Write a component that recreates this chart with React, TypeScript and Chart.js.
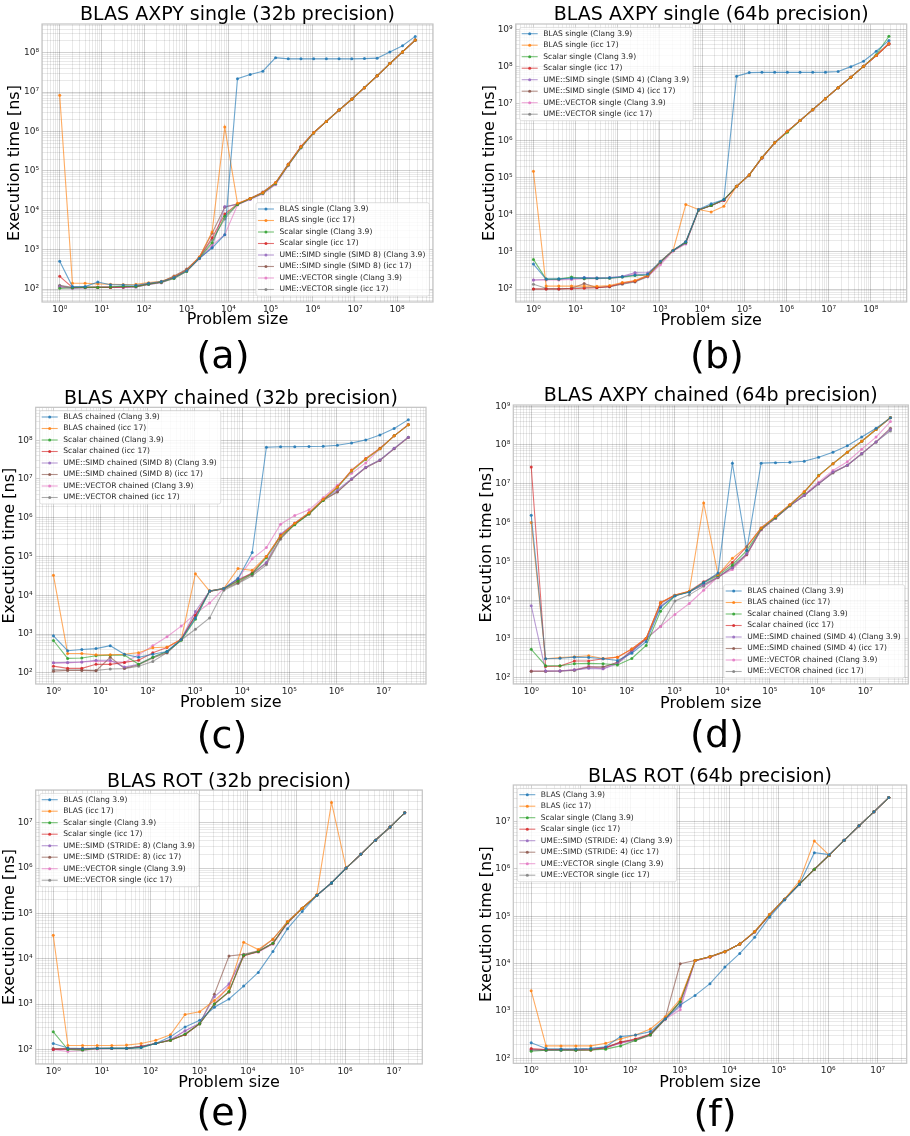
import React, { useEffect, useRef } from 'react';
import { Chart, registerables } from 'chart.js';

Chart.register(...registerables);

const FONT = "'DejaVu Sans', sans-serif";

// ---------------- Data ----------------
const SIZES_A = [1, 2, 4, 8, 16, 32, 64, 128, 256, 512, 1024, 2048, 4096, 8192, 16384, 32768, 65536, 131072, 262144, 524288, 1048576, 2097152, 4194304, 8388608, 16777216, 33554432, 67108864, 134217728, 268435456];
const SIZES_C = [1, 2, 4, 8, 16, 32, 64, 128, 256, 512, 1024, 2048, 4096, 8192, 16384, 32768, 65536, 131072, 262144, 524288, 1048576, 2097152, 4194304, 8388608, 16777216, 33554432];
const SIZES_E = [1, 2, 4, 8, 16, 32, 64, 128, 256, 512, 1024, 2048, 4096, 8192, 16384, 32768, 65536, 131072, 262144, 524288, 1048576, 2097152, 4194304, 8388608, 16777216];

const LABELS_A = ['BLAS single (Clang 3.9)', 'BLAS single (icc 17)', 'Scalar single (Clang 3.9)', 'Scalar single (icc 17)', 'UME::SIMD single (SIMD 8) (Clang 3.9)', 'UME::SIMD single (SIMD 8) (icc 17)', 'UME::VECTOR single (Clang 3.9)', 'UME::VECTOR single (icc 17)'];
const LABELS_B = ['BLAS single (Clang 3.9)', 'BLAS single (icc 17)', 'Scalar single (Clang 3.9)', 'Scalar single (icc 17)', 'UME::SIMD single (SIMD 4) (Clang 3.9)', 'UME::SIMD single (SIMD 4) (icc 17)', 'UME::VECTOR single (Clang 3.9)', 'UME::VECTOR single (icc 17)'];
const LABELS_C = ['BLAS chained (Clang 3.9)', 'BLAS chained (icc 17)', 'Scalar chained (Clang 3.9)', 'Scalar chained (icc 17)', 'UME::SIMD chained (SIMD 8) (Clang 3.9)', 'UME::SIMD chained (SIMD 8) (icc 17)', 'UME::VECTOR chained (Clang 3.9)', 'UME::VECTOR chained (icc 17)'];
const LABELS_D = ['BLAS chained (Clang 3.9)', 'BLAS chained (icc 17)', 'Scalar chained (Clang 3.9)', 'Scalar chained (icc 17)', 'UME::SIMD chained (SIMD 4) (Clang 3.9)', 'UME::SIMD chained (SIMD 4) (icc 17)', 'UME::VECTOR chained (Clang 3.9)', 'UME::VECTOR chained (icc 17)'];
const LABELS_E = ['BLAS (Clang 3.9)', 'BLAS (icc 17)', 'Scalar single (Clang 3.9)', 'Scalar single (icc 17)', 'UME::SIMD (STRIDE: 8) (Clang 3.9)', 'UME::SIMD (STRIDE: 8) (icc 17)', 'UME::VECTOR single (Clang 3.9)', 'UME::VECTOR single (icc 17)'];
const LABELS_F = ['BLAS (Clang 3.9)', 'BLAS (icc 17)', 'Scalar single (Clang 3.9)', 'Scalar single (icc 17)', 'UME::SIMD (STRIDE: 4) (Clang 3.9)', 'UME::SIMD (STRIDE: 4) (icc 17)', 'UME::VECTOR single (Clang 3.9)', 'UME::VECTOR single (icc 17)'];

// (a) BLAS AXPY single, 32b
const A_BLAS_CLANG = [510, 115, 115, 150, 128, 127, 125, 140, 155, 195, 290, 600, 1100, 2400, 2.2e7, 2.8e7, 3.4e7, 7.5e7, 7.0e7, 7.0e7, 7.0e7, 7.0e7, 7.0e7, 7.0e7, 7.1e7, 7.3e7, 1.05e8, 1.5e8, 2.6e8];
const A_BLAS_ICC = [8.3e6, 140, 140, 135, 132, 130, 132, 145, 158, 205, 300, 650, 2800, 1.3e6, 1.5e4, 2.0e4, 2.8e4, 5.0e4, 1.45e5, 4.1e5, 9.3e5, 1.8e6, 3.5e6, 6.6e6, 1.3e7, 2.6e7, 5.3e7, 1.05e8, 2.1e8];
const A_SCALAR_CLANG = [104, 108, 110, 110, 112, 118, 115, 132, 148, 185, 280, 610, 1500, 7000, 1.4e4, 1.95e4, 2.7e4, 4.8e4, 1.4e5, 3.9e5, 9.2e5, 1.8e6, 3.5e6, 6.6e6, 1.3e7, 2.6e7, 5.3e7, 1.05e8, 2.1e8];
const A_SCALAR_ICC = [210, 110, 110, 110, 110, 112, 118, 135, 150, 195, 300, 640, 2000, 8000, 1.45e4, 2.0e4, 2.8e4, 5.0e4, 1.45e5, 4.2e5, 9.3e5, 1.8e6, 3.5e6, 6.6e6, 1.3e7, 2.6e7, 5.3e7, 1.05e8, 2.1e8];
const A_SIMD_CLANG = [115, 105, 108, 110, 110, 110, 112, 130, 145, 200, 290, 600, 1150, 1.25e4, 1.4e4, 1.9e4, 2.7e4, 4.6e4, 1.4e5, 3.8e5, 9.2e5, 1.8e6, 3.5e6, 6.6e6, 1.3e7, 2.6e7, 5.3e7, 1.05e8, 2.1e8];
const A_SIMD_ICC = [120, 108, 110, 110, 110, 112, 115, 135, 150, 215, 320, 640, 2600, 1.2e4, 1.45e4, 2.0e4, 2.9e4, 5.0e4, 1.5e5, 4.1e5, 9.4e5, 1.8e6, 3.5e6, 6.7e6, 1.3e7, 2.6e7, 5.3e7, 1.05e8, 2.1e8];
const A_VEC_CLANG = [110, 105, 108, 110, 110, 110, 112, 130, 145, 185, 280, 590, 1300, 2400, 1.35e4, 1.9e4, 2.6e4, 4.5e4, 1.35e5, 3.9e5, 9.2e5, 1.8e6, 3.5e6, 6.6e6, 1.3e7, 2.6e7, 5.3e7, 1.05e8, 2.1e8];
const A_VEC_ICC = [125, 110, 112, 112, 112, 115, 118, 135, 150, 205, 310, 620, 1800, 6000, 1.4e4, 2.0e4, 2.8e4, 4.9e4, 1.45e5, 4.0e5, 9.3e5, 1.8e6, 3.5e6, 6.6e6, 1.3e7, 2.6e7, 5.3e7, 1.05e8, 2.1e8];

// (b) BLAS AXPY single, 64b
const B_BLAS_CLANG = [470, 185, 190, 195, 200, 195, 200, 215, 240, 250, 560, 1100, 1900, 1.4e4, 2.0e4, 2.6e4, 5.5e7, 6.9e7, 7.0e7, 7.0e7, 7.0e7, 7.0e7, 7.0e7, 7.1e7, 7.4e7, 1.0e8, 1.4e8, 2.6e8, 5.1e8];
const B_BLAS_ICC = [1.5e5, 120, 120, 120, 120, 118, 125, 150, 170, 230, 560, 1100, 1.9e4, 1.4e4, 1.2e4, 1.7e4, 5.9e4, 1.2e5, 3.5e5, 8.8e5, 1.8e6, 3.5e6, 6.9e6, 1.37e7, 2.7e7, 5.2e7, 1.02e8, 2.0e8, 4.2e8];
const B_SCALAR_CLANG = [630, 185, 185, 210, 190, 195, 195, 210, 230, 240, 540, 1100, 1800, 1.35e4, 1.8e4, 2.6e4, 5.9e4, 1.2e5, 3.5e5, 8.8e5, 1.7e6, 3.5e6, 6.9e6, 1.37e7, 2.7e7, 5.2e7, 1.02e8, 2.1e8, 6.6e8];
const B_SCALAR_ICC = [100, 100, 100, 102, 105, 108, 118, 145, 165, 230, 540, 1100, 1800, 1.35e4, 1.8e4, 2.5e4, 5.9e4, 1.2e5, 3.5e5, 8.8e5, 1.8e6, 3.5e6, 6.9e6, 1.37e7, 2.7e7, 5.2e7, 1.02e8, 2.0e8, 4.1e8];
const B_SIMD_CLANG = [175, 180, 180, 190, 205, 200, 205, 220, 280, 270, 520, 1100, 1700, 1.35e4, 1.8e4, 2.5e4, 5.8e4, 1.2e5, 3.4e5, 8.8e5, 1.8e6, 3.5e6, 6.9e6, 1.37e7, 2.7e7, 5.2e7, 1.02e8, 2.0e8, 4.3e8];
const B_SIMD_ICC = [100, 100, 100, 105, 140, 110, 115, 140, 160, 220, 540, 1100, 1900, 1.35e4, 1.8e4, 2.5e4, 5.9e4, 1.2e5, 3.5e5, 8.8e5, 1.8e6, 3.5e6, 6.9e6, 1.37e7, 2.7e7, 5.2e7, 1.02e8, 2.0e8, 4.1e8];
const B_VEC_CLANG = [175, 175, 175, 180, 190, 190, 195, 210, 260, 215, 450, 1050, 1650, 1.35e4, 1.8e4, 2.5e4, 5.8e4, 1.2e5, 3.4e5, 8.8e5, 1.8e6, 3.5e6, 6.9e6, 1.37e7, 2.7e7, 5.2e7, 1.02e8, 2.0e8, 4.2e8];
const B_VEC_ICC = [135, 105, 102, 105, 110, 110, 115, 135, 155, 215, 500, 1100, 1800, 1.35e4, 1.8e4, 2.5e4, 5.9e4, 1.2e5, 3.5e5, 8.8e5, 1.8e6, 3.5e6, 6.9e6, 1.37e7, 2.7e7, 5.2e7, 1.02e8, 2.0e8, 4.1e8];

// (c) BLAS AXPY chained, 32b
const C_BLAS_CLANG = [900, 370, 400, 420, 500, 300, 250, 300, 355, 720, 2600, 1.28e4, 1.5e4, 2.7e4, 1.26e5, 6.6e7, 6.8e7, 6.8e7, 6.9e7, 7.0e7, 7.4e7, 8.5e7, 1.02e8, 1.37e8, 2.0e8, 3.4e8];
const C_BLAS_ICC = [3.3e4, 315, 315, 290, 290, 300, 330, 440, 460, 720, 3.6e4, 1.28e4, 1.5e4, 4.9e4, 4.4e4, 1.0e5, 3.4e5, 7.2e5, 1.35e6, 3.0e6, 6.2e6, 1.65e7, 3.3e7, 6.0e7, 1.3e8, 2.5e8];
const C_SCALAR_CLANG = [680, 235, 240, 275, 285, 285, 165, 250, 355, 690, 2400, 1.28e4, 1.5e4, 2.3e4, 3.6e4, 9.3e4, 3.3e5, 6.6e5, 1.25e6, 2.8e6, 6.0e6, 1.6e7, 3.2e7, 6.0e7, 1.3e8, 2.5e8];
const C_SCALAR_ICC = [148, 130, 130, 165, 165, 185, 210, 330, 450, 730, 3000, 1.28e4, 1.5e4, 2.4e4, 3.8e4, 1.0e5, 3.5e5, 7.1e5, 1.3e6, 2.9e6, 6.2e6, 1.7e7, 3.4e7, 6.2e7, 1.3e8, 2.5e8];
const C_SIMD_CLANG = [180, 185, 190, 210, 210, 140, 165, 250, 355, 740, 3800, 1.28e4, 1.5e4, 2.6e4, 3.6e4, 7.0e4, 3.8e5, 7.3e5, 1.35e6, 3.0e6, 5.2e6, 1.0e7, 2.0e7, 3.1e7, 6.2e7, 1.2e8];
const C_SIMD_ICC = [110, 115, 115, 112, 250, 130, 160, 240, 330, 720, 3000, 1.25e4, 1.45e4, 2.1e4, 3.5e4, 6.8e4, 3.0e5, 6.9e5, 1.25e6, 2.8e6, 4.6e6, 9.8e6, 1.95e7, 3.0e7, 6.0e7, 1.18e8];
const C_VEC_CLANG = [180, 180, 190, 200, 195, 185, 290, 500, 850, 1600, 3300, 6300, 1.5e4, 2.7e4, 8.7e4, 1.7e5, 6.8e5, 1.15e6, 1.6e6, 3.3e6, 6.9e6, 1.4e7, 2.6e7, 6.0e7, 1.3e8, 2.6e8];
const C_VEC_ICC = [121, 118, 118, 115, 125, 128, 148, 195, 330, 700, 1330, 2600, 1.35e4, 2.0e4, 3.2e4, 6.1e4, 2.8e5, 6.8e5, 1.3e6, 2.9e6, 4.7e6, 1.0e7, 2.0e7, 3.1e7, 6.1e7, 1.2e8];

// (d) BLAS AXPY chained, 64b
const D_BLAS_CLANG = [1.55e6, 310, 320, 340, 335, 310, 280, 430, 850, 6500, 1.3e4, 1.6e4, 2.8e4, 5.0e4, 3.4e7, 1.95e5, 3.4e7, 3.5e7, 3.6e7, 3.8e7, 4.8e7, 6.5e7, 9.6e7, 1.6e8, 2.7e8, 5.0e8];
const D_BLAS_ICC = [1.0e6, 310, 330, 350, 370, 315, 340, 550, 1050, 8700, 1.35e4, 1.7e4, 3.2e6, 4.5e4, 1.2e5, 2.4e5, 7.2e5, 1.45e6, 2.9e6, 6.2e6, 1.6e7, 3.3e7, 6.5e7, 1.25e8, 2.5e8, 5.1e8];
const D_SCALAR_CLANG = [540, 205, 205, 230, 235, 230, 215, 315, 680, 5200, 1.3e4, 1.65e4, 2.8e4, 4.3e4, 8.1e4, 1.9e5, 7.0e5, 1.35e6, 2.8e6, 6.0e6, 1.65e7, 3.3e7, 6.5e7, 1.25e8, 2.5e8, 5.1e8];
const D_SCALAR_ICC = [2.7e7, 195, 200, 270, 270, 310, 340, 550, 1050, 8700, 1.35e4, 1.7e4, 3.0e4, 4.6e4, 9.4e4, 2.4e5, 7.3e5, 1.45e6, 2.9e6, 6.2e6, 1.6e7, 3.3e7, 6.5e7, 1.25e8, 2.5e8, 5.0e8];
const D_SIMD_CLANG = [7200, 150, 150, 160, 175, 170, 230, 470, 1000, 7000, 1.3e4, 1.65e4, 2.5e4, 4.0e4, 6.9e4, 1.6e5, 6.8e5, 1.3e6, 2.7e6, 5.0e6, 1.0e7, 2.0e7, 3.0e7, 6.0e7, 1.2e8, 2.5e8];
const D_SIMD_ICC = [148, 148, 150, 158, 190, 190, 250, 500, 1000, 8300, 1.33e4, 1.65e4, 2.5e4, 3.9e4, 6.9e4, 1.5e5, 6.6e5, 1.3e6, 2.7e6, 5.0e6, 1.0e7, 1.95e7, 3.0e7, 6.0e7, 1.2e8, 2.7e8];
const D_VEC_CLANG = [150, 150, 152, 160, 200, 170, 250, 520, 1050, 2100, 4300, 8200, 1.8e4, 4.0e4, 6.2e4, 1.45e5, 6.5e5, 1.3e6, 2.7e6, 5.2e6, 1.1e7, 2.2e7, 3.7e7, 7.8e7, 1.6e8, 4.0e8];
const D_VEC_ICC = [148, 148, 150, 155, 190, 190, 240, 480, 1000, 2100, 9500, 1.37e4, 2.3e4, 3.8e4, 7.5e4, 1.55e5, 6.5e5, 1.3e6, 2.7e6, 5.0e6, 1.0e7, 1.9e7, 3.0e7, 5.8e7, 1.2e8, 2.3e8];

// (e) BLAS ROT, 32b
const E_BLAS_CLANG = [135, 108, 105, 106, 106, 106, 110, 135, 190, 315, 440, 850, 1300, 2500, 5000, 1.45e4, 4.6e4, 1.1e5, 2.5e5, 4.7e5, 1.0e6, 2.0e6, 4.1e6, 8.0e6, 1.65e7];
const E_BLAS_ICC = [3.3e4, 122, 122, 122, 122, 125, 135, 160, 210, 590, 680, 1200, 2300, 2.3e4, 1.6e4, 2.7e4, 6.6e4, 1.3e5, 2.6e5, 2.8e7, 1.0e6, 2.0e6, 4.1e6, 8.0e6, 1.65e7];
const E_SCALAR_CLANG = [245, 100, 97, 105, 106, 106, 110, 135, 160, 220, 370, 1000, 1900, 1.2e4, 1.45e4, 2.2e4, 6.3e4, 1.3e5, 2.5e5, 4.7e5, 1.0e6, 2.0e6, 4.1e6, 8.0e6, 1.65e7];
const E_SCALAR_ICC = [100, 102, 102, 105, 105, 106, 115, 135, 160, 215, 370, 1000, 1850, 1.15e4, 1.45e4, 2.2e4, 6.3e4, 1.3e5, 2.5e5, 4.7e5, 1.0e6, 2.0e6, 4.1e6, 8.0e6, 1.65e7];
const E_SIMD_CLANG = [100, 100, 100, 105, 106, 106, 115, 135, 165, 260, 380, 1450, 2800, 1.2e4, 1.45e4, 2.2e4, 6.3e4, 1.3e5, 2.5e5, 4.7e5, 1.0e6, 2.0e6, 4.1e6, 8.0e6, 1.65e7];
const E_SIMD_ICC = [105, 105, 105, 106, 106, 106, 117, 135, 160, 215, 370, 1650, 1.15e4, 1.25e4, 1.5e4, 2.7e4, 6.6e4, 1.3e5, 2.5e5, 4.7e5, 1.0e6, 2.0e6, 4.1e6, 8.0e6, 1.65e7];
const E_VEC_CLANG = [100, 90, 95, 103, 105, 106, 115, 135, 165, 255, 375, 1000, 2600, 1.2e4, 1.4e4, 2.1e4, 6.0e4, 1.3e5, 2.5e5, 4.7e5, 1.0e6, 2.0e6, 4.1e6, 8.0e6, 1.65e7];
const E_VEC_ICC = [102, 104, 104, 106, 106, 106, 117, 135, 160, 210, 365, 1000, 1850, 1.2e4, 1.45e4, 2.2e4, 6.3e4, 1.3e5, 2.5e5, 4.7e5, 1.0e6, 2.0e6, 4.1e6, 8.0e6, 1.65e7];

// (f) BLAS ROT, 64b
const F_BLAS_CLANG = [215, 163, 160, 160, 165, 178, 290, 315, 370, 690, 1350, 2150, 3800, 8500, 1.65e4, 3.6e4, 9.6e4, 2.2e5, 4.7e5, 2.2e6, 2.0e6, 4.0e6, 8.1e6, 1.6e7, 3.2e7];
const F_BLAS_ICC = [2700, 185, 185, 185, 185, 210, 260, 315, 420, 760, 1800, 1.17e4, 1.4e4, 1.8e4, 2.6e4, 4.8e4, 1.1e5, 2.3e5, 5.5e5, 3.9e6, 1.95e6, 4.0e6, 8.1e6, 1.6e7, 3.2e7];
const F_SCALAR_CLANG = [143, 150, 150, 150, 152, 158, 185, 240, 315, 690, 1600, 1.17e4, 1.4e4, 1.8e4, 2.6e4, 4.7e4, 1.08e5, 2.3e5, 4.8e5, 9.8e5, 1.95e6, 4.0e6, 8.1e6, 1.6e7, 3.2e7];
const F_SCALAR_ICC = [163, 155, 155, 152, 150, 170, 220, 260, 330, 690, 1600, 1.17e4, 1.4e4, 1.8e4, 2.6e4, 4.7e4, 1.08e5, 2.3e5, 4.8e5, 9.8e5, 1.95e6, 4.0e6, 8.1e6, 1.6e7, 3.2e7];
const F_SIMD_CLANG = [152, 150, 152, 152, 155, 170, 215, 250, 320, 680, 1250, 1.15e4, 1.4e4, 1.8e4, 2.6e4, 4.7e4, 1.08e5, 2.3e5, 4.8e5, 9.8e5, 1.95e6, 4.0e6, 8.1e6, 1.6e7, 3.2e7];
const F_SIMD_ICC = [155, 155, 155, 155, 158, 172, 225, 250, 320, 720, 1.0e4, 1.17e4, 1.4e4, 1.8e4, 2.6e4, 4.7e4, 1.08e5, 2.3e5, 4.8e5, 9.8e5, 1.95e6, 4.0e6, 8.1e6, 1.6e7, 3.2e7];
const F_VEC_CLANG = [152, 148, 150, 152, 155, 168, 210, 240, 305, 670, 1070, 1.15e4, 1.35e4, 1.8e4, 2.6e4, 4.6e4, 1.05e5, 2.3e5, 4.8e5, 9.8e5, 1.95e6, 4.0e6, 8.1e6, 1.6e7, 3.2e7];
const F_VEC_ICC = [152, 150, 150, 152, 155, 170, 215, 250, 320, 690, 1500, 1.17e4, 1.4e4, 1.8e4, 2.6e4, 4.7e4, 1.08e5, 2.3e5, 4.8e5, 9.8e5, 1.95e6, 4.0e6, 8.1e6, 1.6e7, 3.2e7];

// ---------------- Styles & layout ----------------
const SERIES_RGB = ['31,119,180', '255,127,14', '44,160,44', '214,39,40', '148,103,189', '140,86,75', '227,119,194', '127,127,127'];

const PANELS = [
  {
    title: 'BLAS AXPY single (32b precision)', letter: '(a)', sizes: SIZES_A, labels: LABELS_A,
    series: [A_BLAS_CLANG, A_BLAS_ICC, A_SCALAR_CLANG, A_SCALAR_ICC, A_SIMD_CLANG, A_SIMD_ICC, A_VEC_CLANG, A_VEC_ICC],
    xRange: [-0.42, 8.85], yRange: [1.67, 8.73],
    box: { x: 0, y: 0, w: 455, h: 335 }, plot: { l: 42, t: 24, r: 433, b: 302 },
    titleY: 15, yTitleX: 15, xTitleY: 320, legend: 'lr', letterPos: [223, 356],
  },
  {
    title: 'BLAS AXPY single (64b precision)', letter: '(b)', sizes: SIZES_A, labels: LABELS_B,
    series: [B_BLAS_CLANG, B_BLAS_ICC, B_SCALAR_CLANG, B_SCALAR_ICC, B_SIMD_CLANG, B_SIMD_ICC, B_VEC_CLANG, B_VEC_ICC],
    xRange: [-0.42, 8.85], yRange: [1.65, 9.15],
    box: { x: 455, y: 0, w: 455, h: 335 }, plot: { l: 515.7, t: 24, r: 906.7, b: 302 },
    titleY: 15, yTitleX: 490, xTitleY: 321, legend: 'ul', letterPos: [717, 356],
  },
  {
    title: 'BLAS AXPY chained (32b precision)', letter: '(c)', sizes: SIZES_C, labels: LABELS_C,
    series: [C_BLAS_CLANG, C_BLAS_ICC, C_SCALAR_CLANG, C_SCALAR_ICC, C_SIMD_CLANG, C_SIMD_ICC, C_VEC_CLANG, C_VEC_ICC],
    xRange: [-0.376, 7.9], yRange: [1.71, 8.85],
    box: { x: 0, y: 380, w: 455, h: 337 }, plot: { l: 35.7, t: 407.3, r: 426, b: 684 },
    titleY: 399, yTitleX: 10, xTitleY: 702.5, legend: 'ul', letterPos: [222, 736],
  },
  {
    title: 'BLAS AXPY chained (64b precision)', letter: '(d)', sizes: SIZES_C, labels: LABELS_D,
    series: [D_BLAS_CLANG, D_BLAS_ICC, D_SCALAR_CLANG, D_SCALAR_ICC, D_SIMD_CLANG, D_SIMD_ICC, D_VEC_CLANG, D_VEC_ICC],
    xRange: [-0.376, 7.9], yRange: [1.84, 9.03],
    box: { x: 455, y: 380, w: 455, h: 338 }, plot: { l: 513.3, t: 405, r: 908.3, b: 684 },
    titleY: 396, yTitleX: 487, xTitleY: 704, legend: 'lr', letterPos: [717, 735],
  },
  {
    title: 'BLAS ROT (32b precision)', letter: '(e)', sizes: SIZES_E, labels: LABELS_E,
    series: [E_BLAS_CLANG, E_BLAS_ICC, E_SCALAR_CLANG, E_SCALAR_ICC, E_SIMD_CLANG, E_SIMD_ICC, E_VEC_CLANG, E_VEC_ICC],
    xRange: [-0.361, 7.586], yRange: [1.68, 7.72],
    box: { x: 0, y: 760, w: 455, h: 337 }, plot: { l: 35.7, t: 790, r: 422.3, b: 1064 },
    titleY: 782, yTitleX: 10, xTitleY: 1082.5, legend: 'ul', letterPos: [223, 1113],
  },
  {
    title: 'BLAS ROT (64b precision)', letter: '(f)', sizes: SIZES_E, labels: LABELS_F,
    series: [F_BLAS_CLANG, F_BLAS_ICC, F_SCALAR_CLANG, F_SCALAR_ICC, F_SIMD_CLANG, F_SIMD_ICC, F_VEC_CLANG, F_VEC_ICC],
    xRange: [-0.361, 7.586], yRange: [1.9, 7.77],
    box: { x: 455, y: 760, w: 455, h: 338 }, plot: { l: 513.3, t: 785, r: 906.7, b: 1063.3 },
    titleY: 777, yTitleX: 487, xTitleY: 1083, legend: 'ul', letterPos: [715, 1114],
  },
];

const SUP: Record<string, string> = { '0': '⁰', '1': '¹', '2': '²', '3': '³', '4': '⁴', '5': '⁵', '6': '⁶', '7': '⁷', '8': '⁸', '9': '⁹', '-': '⁻' };

function isPow10(v: number) {
  if (!(v > 0)) return false;
  const l = Math.log10(v);
  return Math.abs(l - Math.round(l)) < 1e-6;
}

function pow10Label(v: number) {
  const e = Math.round(Math.log10(v));
  return '10' + String(e).split('').map((c) => SUP[c]).join('');
}

function logTicks(minV: number, maxV: number) {
  const out: any[] = [];
  const e0 = Math.floor(Math.log10(minV));
  const e1 = Math.floor(Math.log10(maxV));
  for (let e = e0; e <= e1; e++) {
    for (let m = 1; m <= 9; m++) {
      const v = m * Math.pow(10, e);
      if (v >= minV && v <= maxV) out.push({ value: v, major: m === 1 });
    }
  }
  return out;
}

const decorPlugin = {
  id: 'panelDecor',
  beforeDatasetsDraw(chart: any) {
    const { ctx, chartArea: a } = chart;
    ctx.save();
    ctx.strokeStyle = '#c4c4c4';
    ctx.lineWidth = 1.2;
    ctx.strokeRect(a.left, a.top, a.right - a.left, a.bottom - a.top);
    ctx.restore();
  },
  afterDatasetsDraw(chart: any, _args: any, opts: any) {
    const { ctx, chartArea: a } = chart;
    const fs = 7.6;
    const rowH = 11.5;
    ctx.save();
    ctx.font = `${fs}px ${FONT}`;
    const labels = chart.data.datasets.map((d: any) => d.label);
    const maxW = Math.max(...labels.map((l: string) => ctx.measureText(l).width));
    const boxW = 23.5 + maxW + 4;
    const boxH = 6.3 + (labels.length - 1) * rowH + 6.5;
    let bx: number, by: number;
    if (opts.corner === 'lr') {
      bx = a.right - 3.6 - boxW;
      by = a.bottom - 6 - boxH;
    } else {
      bx = a.left + 4;
      by = a.top + 3.4;
    }
    ctx.beginPath();
    if (ctx.roundRect) ctx.roundRect(bx, by, boxW, boxH, 2);
    else ctx.rect(bx, by, boxW, boxH);
    ctx.fillStyle = 'rgba(255,255,255,0.8)';
    ctx.fill();
    ctx.strokeStyle = 'rgba(204,204,204,0.8)';
    ctx.lineWidth = 0.8;
    ctx.stroke();
    chart.data.datasets.forEach((d: any, i: number) => {
      const cy = by + 6.3 + i * rowH;
      ctx.strokeStyle = d.borderColor;
      ctx.lineWidth = 1.1;
      ctx.beginPath();
      ctx.moveTo(bx + 2, cy);
      ctx.lineTo(bx + 18, cy);
      ctx.stroke();
      ctx.fillStyle = d.pointBackgroundColor;
      ctx.beginPath();
      ctx.arc(bx + 10, cy, 1.5, 0, Math.PI * 2);
      ctx.fill();
      ctx.fillStyle = '#262626';
      ctx.textAlign = 'left';
      ctx.textBaseline = 'middle';
      ctx.fillText(d.label, bx + 23.5, cy);
    });
    ctx.restore();
  },
  afterDraw(chart: any, _args: any, opts: any) {
    const { ctx, chartArea: a } = chart;
    ctx.save();
    ctx.font = `19px ${FONT}`;
    ctx.fillStyle = '#000';
    ctx.textAlign = 'center';
    ctx.textBaseline = 'middle';
    ctx.fillText(opts.title, (a.left + a.right) / 2, opts.titleY);
    ctx.restore();
  },
};

function Panel({ spec }: { spec: any }) {
  const ref = useRef<HTMLCanvasElement | null>(null);
  useEffect(() => {
    const canvas = ref.current;
    if (!canvas) return;
    const { box, plot } = spec;
    const lh = 16 * 1.2;
    const xMin = Math.pow(10, spec.xRange[0]);
    const xMax = Math.pow(10, spec.xRange[1]);
    const yMin = Math.pow(10, spec.yRange[0]);
    const yMax = Math.pow(10, spec.yRange[1]);
    const gridColor = (ctx: any) =>
      ctx.tick && isPow10(ctx.tick.value) ? 'rgba(0,0,0,0.18)' : 'rgba(0,0,0,0.085)';
    const tickCb = (value: any) => (isPow10(Number(value)) ? pow10Label(Number(value)) : '');
    const datasets = spec.series.map((vals: number[], i: number) => ({
      label: spec.labels[i],
      data: vals.map((v, j) => ({ x: spec.sizes[j], y: v })),
      borderColor: `rgba(${SERIES_RGB[i]},0.65)`,
      pointBackgroundColor: `rgba(${SERIES_RGB[i]},0.85)`,
      backgroundColor: `rgba(${SERIES_RGB[i]},0.85)`,
      borderWidth: 1.1,
      pointRadius: 1.5,
      pointBorderWidth: 0,
      pointHoverRadius: 0,
      tension: 0,
      fill: false,
    }));
    const chart = new Chart(canvas, {
      type: 'line',
      data: { datasets },
      options: {
        responsive: false,
        maintainAspectRatio: false,
        animation: false,
        events: [],
        layout: { padding: { left: 0, top: plot.t - box.y, right: box.x + box.w - plot.r, bottom: 0 } },
        plugins: {
          legend: { display: false },
          tooltip: { enabled: false },
          panelDecor: { corner: spec.legend, title: spec.title, titleY: spec.titleY - box.y },
        } as any,
        scales: {
          x: {
            type: 'logarithmic',
            position: 'bottom',
            min: xMin,
            max: xMax,
            bounds: 'data',
            afterBuildTicks: (s: any) => { s.ticks = logTicks(xMin, xMax); },
            afterFit: (s: any) => { s.height = box.y + box.h - plot.b; },
            grid: { color: gridColor, lineWidth: 1, drawTicks: false },
            border: { display: false },
            ticks: { autoSkip: false, maxRotation: 0, minRotation: 0, padding: 2, color: '#262626', font: { family: FONT, size: 9 }, callback: tickCb },
            title: { display: true, text: 'Problem size', color: '#000', font: { family: FONT, size: 16 }, padding: { top: 0, bottom: box.y + box.h - spec.xTitleY - lh / 2 } },
          },
          y: {
            type: 'logarithmic',
            position: 'left',
            min: yMin,
            max: yMax,
            bounds: 'data',
            afterBuildTicks: (s: any) => { s.ticks = logTicks(yMin, yMax); },
            afterFit: (s: any) => { s.width = plot.l - box.x; },
            grid: { color: gridColor, lineWidth: 1, drawTicks: false },
            border: { display: false },
            ticks: { autoSkip: false, padding: 3, color: '#262626', font: { family: FONT, size: 9 }, callback: tickCb },
            title: { display: true, text: 'Execution time [ns]', color: '#000', font: { family: FONT, size: 16 }, padding: { top: spec.yTitleX - box.x - lh / 2, bottom: 0 } },
          },
        } as any,
      } as any,
      plugins: [decorPlugin],
    } as any);
    return () => chart.destroy();
  }, [spec]);
  const { box } = spec;
  return (
    <div style={{ position: 'absolute', left: box.x, top: box.y, width: box.w, height: box.h }}>
      <canvas ref={ref} width={box.w} height={box.h} style={{ display: 'block', width: box.w, height: box.h }} />
    </div>
  );
}

export default function App() {
  return (
    <div style={{ position: 'absolute', left: 0, top: 0, width: 910, height: 1136, background: '#fff', overflow: 'hidden', fontFamily: FONT }}>
      {PANELS.map((p) => (
        <Panel key={p.letter} spec={p} />
      ))}
      {PANELS.map((p) => (
        <div
          key={'l' + p.letter}
          style={{
            position: 'absolute',
            left: p.letterPos[0] - 60,
            top: p.letterPos[1] - 20.2,
            width: 120,
            textAlign: 'center',
            fontSize: 38,
            lineHeight: '38px',
            color: '#000',
            fontFamily: FONT,
          }}
        >
          {p.letter}
        </div>
      ))}
    </div>
  );
}
